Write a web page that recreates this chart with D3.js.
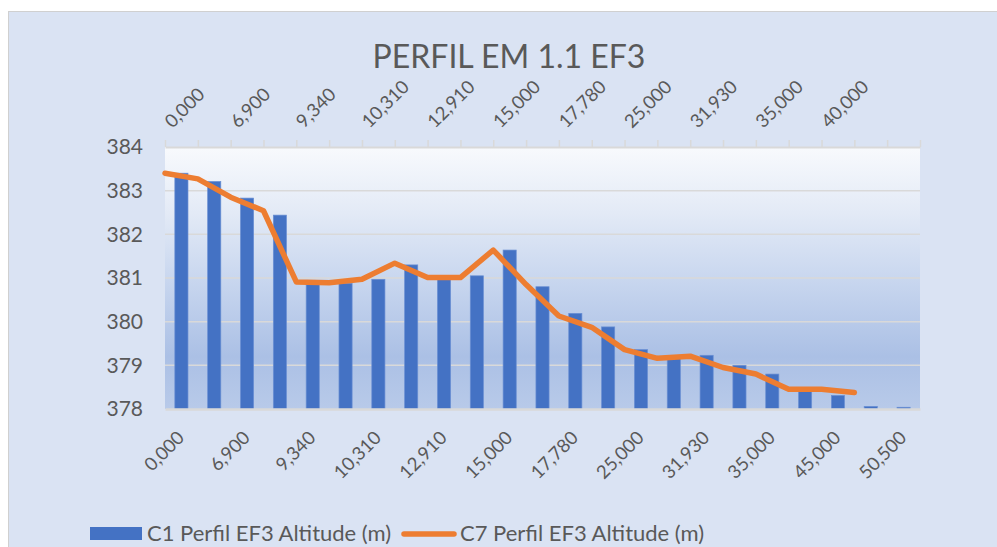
<!DOCTYPE html>
<html>
<head>
<meta charset="utf-8">
<script src="https://cdn.jsdelivr.net/npm/d3@7"></script>
<style>
  body { margin: 0; background: #fff; }
  text { font-family: Lato, "Open Sans", sans-serif; fill: #595959; }
</style>
</head>
<body>
<div id="chart"></div>
<script>
const title = "PERFIL EM 1.1 EF3";
const barLabels = ["0,000", "6,900", "9,340", "10,310", "12,910", "15,000",
    "17,780", "25,000", "31,930", "35,000", "45,000", "50,500"];
const lineLabels = ["0,000", "6,900", "9,340", "10,310", "12,910", "15,000",
    "17,780", "25,000", "31,930", "35,000", "40,000"];
const barValues = [383.40, 383.21, 382.83, 382.44, 380.88, 380.88, 380.97, 381.30,
    380.98, 381.05, 381.64, 380.80, 380.19, 379.88, 379.36, 379.17, 379.23, 379.00,
    378.80, 378.42, 378.31, 378.06, 378.04];
const lineValues = [383.40, 383.27, 382.85, 382.54, 380.91, 380.89, 380.97, 381.34,
    381.01, 381.01, 381.64, 380.85, 380.13, 379.87, 379.36, 379.16, 379.21, 378.95,
    378.80, 378.45, 378.45, 378.38];
const lineSlots = 24;
const seriesNames = ["C1 Perfil EF3 Altitude (m)", "C7 Perfil EF3 Altitude (m)"];

const W = 997, H = 547;
const plot = { left: 165, right: 920, top: 147, bottom: 409 };

const svg = d3.select("#chart").append("svg")
    .attr("width", W)
    .attr("height", H);

svg.append("rect")
    .attr("x", 8.5).attr("y", 11.5)
    .attr("width", W).attr("height", H)
    .attr("fill", "#dae3f3")
    .attr("stroke", "#d0d0d0");

const grad = svg.append("defs").append("linearGradient")
    .attr("id", "plotbg")
    .attr("x1", 0).attr("y1", 0).attr("x2", 0).attr("y2", 1);
[[0, "#f8fafd"], [0.25, "#e3eaf6"], [0.5, "#c9d7ef"], [0.8, "#abc0e5"], [1, "#b8cae9"]]
    .forEach(s => grad.append("stop").attr("offset", s[0]).attr("stop-color", s[1]));

svg.append("rect")
    .attr("x", plot.left).attr("y", plot.top)
    .attr("width", plot.right - plot.left)
    .attr("height", plot.bottom - plot.top)
    .attr("fill", "url(#plotbg)");

svg.append("text")
    .attr("x", 509).attr("y", 68)
    .attr("text-anchor", "middle")
    .style("font-size", "32px")
    .text(title);

const y = d3.scaleLinear().domain([378, 384]).range([plot.bottom, plot.top]);

const x = d3.scaleBand()
    .domain(d3.range(barValues.length))
    .range([plot.left, plot.right])
    .paddingInner(0.6)
    .paddingOuter(0.3);

const x2 = d3.scalePoint()
    .domain(d3.range(lineSlots))
    .range([plot.left, plot.right]);

// gridlines
svg.append("g")
    .selectAll("line")
    .data(y.ticks(6).filter(d => d > 378 && d < 384))
    .join("line")
    .attr("x1", plot.left).attr("x2", plot.right)
    .attr("y1", d => y(d)).attr("y2", d => y(d))
    .attr("stroke", "#d9d9d9")
    .attr("stroke-width", 1.5);

// y axis labels
const yAxis = svg.append("g")
    .attr("transform", `translate(${plot.left},0)`)
    .call(d3.axisLeft(y).ticks(6).tickFormat(d3.format("d")).tickSize(0).tickPadding(22));
yAxis.select(".domain").remove();
yAxis.selectAll("text")
    .style("font-size", "21px")
    .style("font-family", "Lato, sans-serif")
    .attr("fill", "#595959");

// bars
svg.append("g")
    .selectAll("rect")
    .data(barValues)
    .join("rect")
    .attr("x", (d, i) => x(i))
    .attr("y", d => y(d))
    .attr("width", x.bandwidth())
    .attr("height", d => y(378) - y(d))
    .attr("fill", "#4472c4")
    .attr("stroke", "#6a8fd3")
    .attr("stroke-width", 0.7);

// bottom axis
const xAxis = svg.append("g")
    .attr("transform", `translate(0,${plot.bottom})`)
    .call(d3.axisBottom(x)
        .tickValues(d3.range(0, barValues.length, 2))
        .tickFormat(i => barLabels[i / 2])
        .tickSize(0));
xAxis.select(".domain")
    .attr("stroke", "#d9d9d9")
    .attr("stroke-width", 2.5);
xAxis.selectAll("text")
    .style("font-size", "18.5px")
    .style("font-family", "Lato, sans-serif")
    .attr("fill", "#595959")
    .attr("text-anchor", "end")
    .attr("y", 0)
    .attr("dy", 0)
    .attr("transform", "translate(4,30) rotate(-45)");

// top axis
const topAxis = svg.append("g")
    .attr("transform", `translate(0,${plot.top})`)
    .call(d3.axisTop(x2)
        .tickFormat(i => (i % 2 === 0 && lineLabels[i / 2]) ? lineLabels[i / 2] : "")
        .tickSize(7)
        .tickSizeOuter(0));
topAxis.select(".domain")
    .attr("stroke", "#d9d9d9")
    .attr("stroke-width", 2);
topAxis.selectAll(".tick line")
    .attr("stroke", "#d9d9d9")
    .attr("stroke-width", 1.5);
topAxis.selectAll("text")
    .style("font-size", "18.5px")
    .style("font-family", "Lato, sans-serif")
    .attr("fill", "#595959")
    .attr("text-anchor", "start")
    .attr("y", 0)
    .attr("dy", 0)
    .attr("transform", "translate(7,-18) rotate(-45)");

// line series
const line = d3.line()
    .x((d, i) => x2(i))
    .y(d => y(d));

svg.append("path")
    .datum(lineValues)
    .attr("d", line)
    .attr("fill", "none")
    .attr("stroke", "#ed7d31")
    .attr("stroke-width", 5.5)
    .attr("stroke-linejoin", "round")
    .attr("stroke-linecap", "round");

// legend
const leg = svg.append("g");
leg.append("rect")
    .attr("x", 90).attr("y", 527)
    .attr("width", 52).attr("height", 13)
    .attr("fill", "#4472c4");
leg.append("text")
    .attr("x", 147).attr("y", 541)
    .style("font-size", "22px")
    .text(seriesNames[0]);
leg.append("line")
    .attr("x1", 404).attr("x2", 454)
    .attr("y1", 534).attr("y2", 534)
    .attr("stroke", "#ed7d31")
    .attr("stroke-width", 5.5)
    .attr("stroke-linecap", "round");
leg.append("text")
    .attr("x", 460).attr("y", 541)
    .style("font-size", "22px")
    .text(seriesNames[1]);
</script>
</body>
</html>
